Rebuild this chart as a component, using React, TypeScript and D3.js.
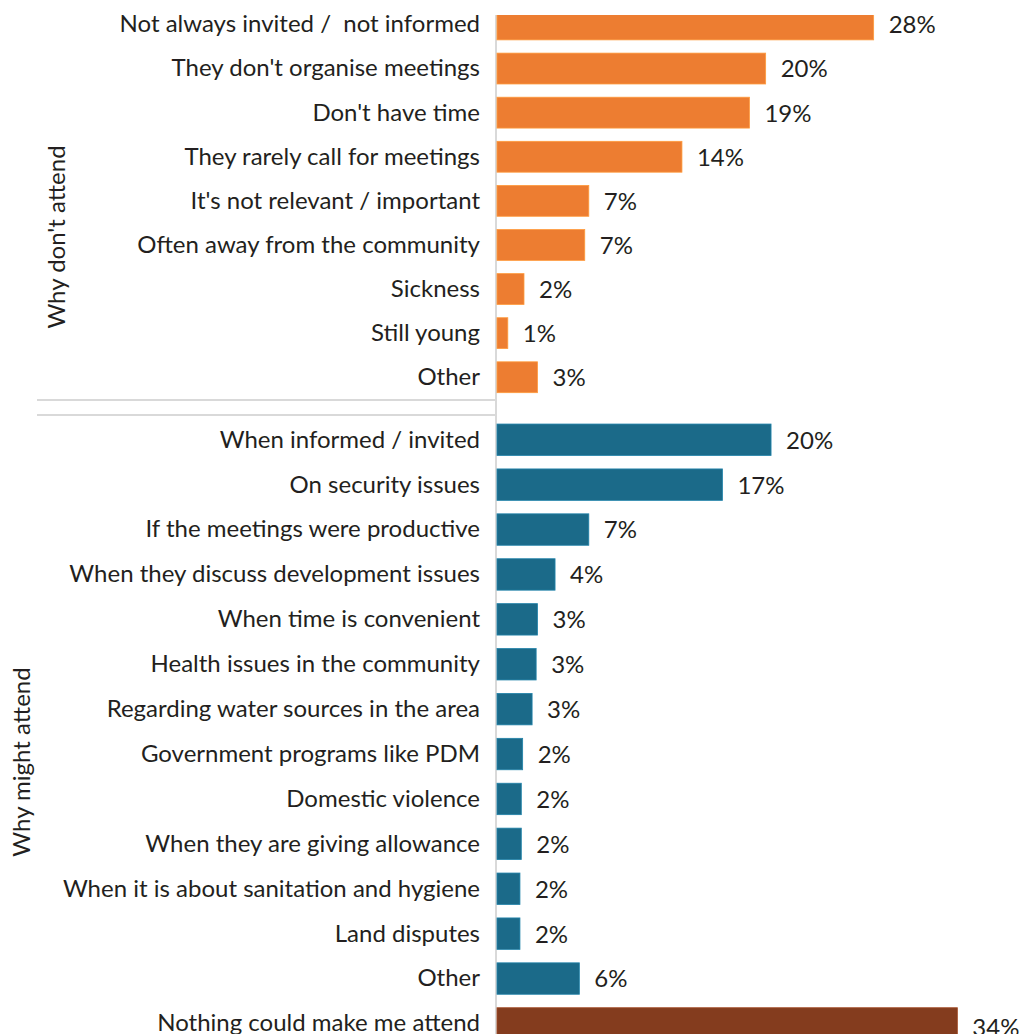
import React from "react";
import * as d3 from "d3";

const dontCategories = [
  "Not always invited /  not informed",
  "They don't organise meetings",
  "Don't have time",
  "They rarely call for meetings",
  "It's not relevant / important",
  "Often away from the community",
  "Sickness",
  "Still young",
  "Other",
];
const dontValues = [27.9, 19.9, 18.7, 13.7, 6.8, 6.5, 2.0, 0.8, 3.0];

const mightCategories = [
  "When informed / invited",
  "On security issues",
  "If the meetings were productive",
  "When they discuss development issues",
  "When time is convenient",
  "Health issues in the community",
  "Regarding water sources in the area",
  "Government programs like PDM",
  "Domestic violence",
  "When they are giving allowance",
  "When it is about sanitation and hygiene",
  "Land disputes",
  "Other ",
  "Nothing could make me attend",
];
const mightValues = [20.3, 16.7, 6.8, 4.3, 3.0, 2.9, 2.6, 1.9, 1.8, 1.8, 1.7, 1.7, 6.1, 34.1];

const groupLabels = ["Why don't attend", "Why might attend"];

const ORANGE = "#ED7D31";
const BLUE = "#1B6A89";
const BROWN = "#843C1E";
const TEXT = "#231F20";
const GRID = "#D9D9D9";
const FONT = "Lato, 'Open Sans', sans-serif";
const FS = 24;

export default function App() {
  const W = 1022;
  const H = 1034;
  const x = d3.scaleLinear().domain([0, 34]).range([497, 956]);

  const yDont = d3
    .scaleBand<string>()
    .domain(dontCategories)
    .range([2.4, 2.4 + 9 * 44.1])
    .paddingInner(0.3)
    .paddingOuter(0.15);
  const yMight = d3
    .scaleBand<string>()
    .domain(mightCategories)
    .range([417.3, 417.3 + 14 * 44.9])
    .paddingInner(0.3)
    .paddingOuter(0.15);

  const rows = [
    ...dontCategories.map((c, i) => ({
      cat: c,
      v: dontValues[i],
      y: yDont(c)!,
      h: yDont.bandwidth(),
      color: ORANGE,
    })),
    ...mightCategories.map((c, i) => ({
      cat: c,
      v: mightValues[i],
      y: yMight(c)!,
      h: yMight.bandwidth(),
      color: i === mightCategories.length - 1 ? BROWN : BLUE,
    })),
  ];

  return (
    <svg
      width={W}
      height={H}
      style={{ position: "absolute", left: 0, top: 0, background: "#fff" }}
      fontFamily={FONT}
    >
      <defs>
        <clipPath id="plotclip">
          <rect x={0} y={15} width={W} height={H - 15} />
        </clipPath>
      </defs>
      <rect x={0} y={0} width={W} height={H} fill="#fff" />
      <g clipPath="url(#plotclip)">
        <line x1={496} x2={496} y1={15} y2={H} stroke={GRID} strokeWidth={2} />
        {rows.map((r, i) => (
          <rect
            key={i}
            x={x(0)}
            y={r.y}
            width={x(r.v) - x(0)}
            height={r.h}
            fill={r.color}
            stroke={d3.color(r.color)!.brighter(0.6).formatHex()}
            strokeWidth={0.8}
          />
        ))}
      </g>
      <line x1={37} x2={496} y1={400} y2={400} stroke={GRID} strokeWidth={2} />
      <line x1={37} x2={496} y1={415} y2={415} stroke={GRID} strokeWidth={2} />
      {rows.map((r, i) => (
        <text
          key={"c" + i}
          x={480}
          y={r.y + r.h / 2}
          dy="0.33em"
          textAnchor="end"
          fontSize={FS}
          fill={TEXT}
          style={{ whiteSpace: "pre" }}
        >
          {r.cat.trimEnd()}
        </text>
      ))}
      {rows.map((r, i) => (
        <text
          key={"v" + i}
          x={x(r.v) + 15}
          y={r.y + r.h / 2 + (i === rows.length - 1 ? 5 : 1)}
          dy="0.33em"
          fontSize={FS}
          fill={TEXT}
        >
          {Math.round(r.v) + "%"}
        </text>
      ))}
      <text
        transform="translate(57,237) rotate(-90)"
        textAnchor="middle"
        dy="0.35em"
        fontSize={FS}
        fill={TEXT}
      >
        {groupLabels[0]}
      </text>
      <text
        transform="translate(22,762) rotate(-90)"
        textAnchor="middle"
        dy="0.35em"
        fontSize={FS}
        fill={TEXT}
      >
        {groupLabels[1]}
      </text>
    </svg>
  );
}
